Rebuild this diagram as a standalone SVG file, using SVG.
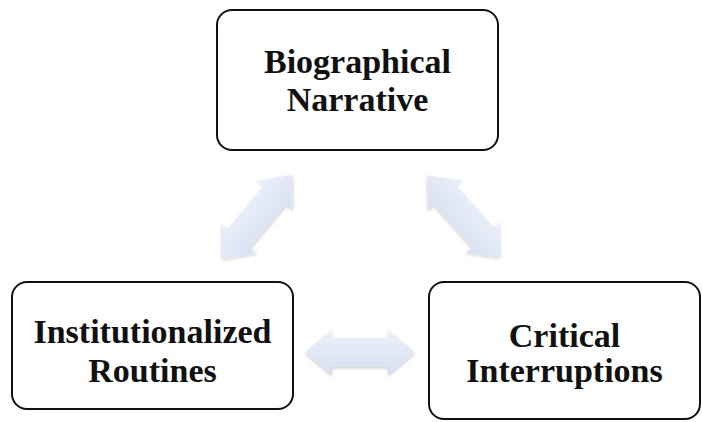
<svg xmlns="http://www.w3.org/2000/svg" width="702" height="422" viewBox="0 0 702 422">
<defs>
<linearGradient id="ag" x1="0" y1="0" x2="0" y2="1">
<stop offset="0" stop-color="#ecf1fa"/>
<stop offset="1" stop-color="#d6e0f2"/>
</linearGradient>
<filter id="sh" x="-20%" y="-30%" width="140%" height="160%">
<feGaussianBlur in="SourceAlpha" stdDeviation="1.5"/>
<feOffset dx="0" dy="1.5" result="b"/>
<feComponentTransfer><feFuncA type="linear" slope="0.2"/></feComponentTransfer>
<feMerge><feMergeNode/><feMergeNode in="SourceGraphic"/></feMerge>
</filter>
<path id="dbl" d="M-55,0 L-28,-23 L-28,-14.5 L28,-14.5 L28,-23 L55,0 L28,23 L28,14.5 L-28,14.5 L-28,23 Z"/>
</defs>
<style>
.box{fill:#ffffff;stroke:#111111;stroke-width:2}
.lbl{font-family:"Liberation Serif","Times New Roman",serif;font-weight:bold;font-size:34px;fill:#111111;text-anchor:middle}
.arr{fill:url(#ag);filter:url(#sh)}
</style>
<g id="connectors">
<use href="#dbl" class="arr" transform="translate(256,217) rotate(-50)"/>
<use href="#dbl" class="arr" transform="translate(465,216.5) rotate(48.3)"/>
<use href="#dbl" class="arr" transform="translate(360,352)"/>
</g>
<g id="biographical-narrative">
<rect class="box" x="217" y="10" width="281" height="140" rx="15"/>
<text class="lbl" x="357.5" y="72.5">Biographical</text>
<text class="lbl" x="357.5" y="110.5">Narrative</text>
</g>
<g id="institutionalized-routines">
<rect class="box" x="12" y="282" width="281" height="127" rx="15"/>
<text class="lbl" x="152.5" y="343">Institutionalized</text>
<text class="lbl" x="152.5" y="381.5">Routines</text>
</g>
<g id="critical-interruptions">
<rect class="box" x="429" y="282" width="271" height="137" rx="15"/>
<text class="lbl" x="564.5" y="346.5">Critical</text>
<text class="lbl" x="564.5" y="382">Interruptions</text>
</g>
</svg>
